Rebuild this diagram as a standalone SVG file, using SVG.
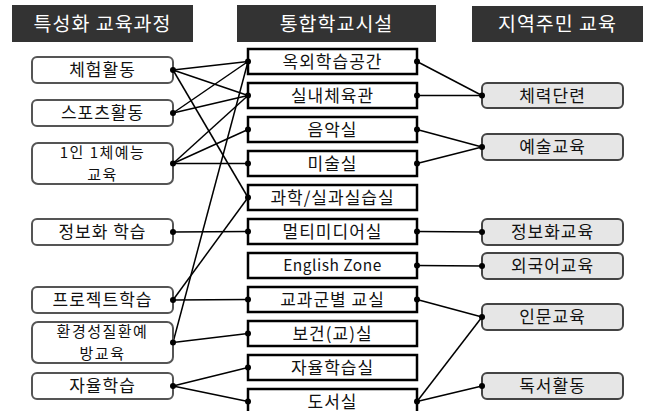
<svg xmlns="http://www.w3.org/2000/svg" width="647" height="411" viewBox="0 0 647 411">
<style>
text{font-family:"Noto Sans CJK KR","Noto Sans",sans-serif;text-anchor:middle;}
.hd rect{fill:#333333;}
.hd text{fill:#ffffff;font-size:19.5px;letter-spacing:1px;}
.lf rect{fill:#ffffff;stroke:#555555;stroke-width:2;}
.md rect{fill:#ffffff;stroke:#000000;stroke-width:2.5;}
.rt rect{fill:#e6e6e6;stroke:#444444;stroke-width:2;}
.n text{fill:#111111;font-size:17px;letter-spacing:1px;}
.n text.two{font-size:15px;letter-spacing:1.5px;}
#conn line{stroke:#000000;stroke-width:1.5;}
#dots circle{fill:#000000;}
</style>
<rect width="647" height="411" fill="#ffffff"/>
<g id="h1" class="hd"><rect x="12" y="5" width="181" height="37"/><text x="102.5" y="30.5">특성화 교육과정</text></g>
<g id="h2" class="hd"><rect x="237" y="5" width="199" height="37"/><text x="336.5" y="30.5">통합학교시설</text></g>
<g id="h3" class="hd"><rect x="472" y="6" width="171" height="36"/><text x="557.5" y="30.5">지역주민 교육</text></g>

<g id="conn">
<line x1="173" y1="70" x2="248" y2="61.5"/>
<line x1="173" y1="70" x2="248" y2="95.5"/>
<line x1="173" y1="70" x2="248" y2="197.5"/>
<line x1="173" y1="113" x2="248" y2="61.5"/>
<line x1="173" y1="113" x2="248" y2="95.5"/>
<line x1="173" y1="163.5" x2="248" y2="95.5"/>
<line x1="173" y1="163.5" x2="248" y2="129.5"/>
<line x1="173" y1="163.5" x2="248" y2="163.5"/>
<line x1="173" y1="232" x2="248" y2="231.5"/>
<line x1="173" y1="300" x2="248" y2="197.5"/>
<line x1="173" y1="300" x2="248" y2="299.5"/>
<line x1="173" y1="342.5" x2="248" y2="61.5"/>
<line x1="173" y1="342.5" x2="248" y2="333.5"/>
<line x1="173" y1="386" x2="248" y2="367.5"/>
<line x1="173" y1="386" x2="248" y2="401.5"/>
<line x1="417" y1="61.5" x2="482" y2="95.5"/>
<line x1="417" y1="95.5" x2="482" y2="95.5"/>
<line x1="417" y1="129.5" x2="482" y2="147"/>
<line x1="417" y1="163.5" x2="482" y2="147"/>
<line x1="417" y1="231.5" x2="482" y2="232"/>
<line x1="417" y1="265.5" x2="482" y2="266"/>
<line x1="417" y1="299.5" x2="482" y2="317"/>
<line x1="417" y1="401.5" x2="482" y2="317"/>
<line x1="417" y1="401.5" x2="482" y2="386"/>
</g>

<g id="l1" class="n lf"><rect x="32" y="57" width="141" height="26" rx="5"/><text x="102.5" y="76">체험활동</text></g>
<g id="l2" class="n lf"><rect x="32" y="100" width="141" height="26" rx="5"/><text x="102.5" y="119">스포츠활동</text></g>
<g id="l3" class="n lf"><rect x="32" y="143" width="141" height="41" rx="6"/><text class="two" x="102.5" y="158">1인 1체예능</text><text class="two" x="102.5" y="180">교육</text></g>
<g id="l4" class="n lf"><rect x="32" y="219" width="141" height="26" rx="5"/><text x="102.5" y="238">정보화 학습</text></g>
<g id="l5" class="n lf"><rect x="32" y="287" width="141" height="26" rx="5"/><text x="102.5" y="306">프로젝트학습</text></g>
<g id="l6" class="n lf"><rect x="32" y="322" width="141" height="41" rx="6"/><text class="two" x="102.5" y="337">환경성질환예</text><text class="two" x="102.5" y="359">방교육</text></g>
<g id="l7" class="n lf"><rect x="32" y="373" width="141" height="26" rx="5"/><text x="102.5" y="392">자율학습</text></g>

<g id="m1" class="n md"><rect x="248" y="49" width="169" height="25"/><text x="332.5" y="67.5">옥외학습공간</text></g>
<g id="m2" class="n md"><rect x="248" y="83" width="169" height="25"/><text x="332.5" y="101.5">실내체육관</text></g>
<g id="m3" class="n md"><rect x="248" y="117" width="169" height="25"/><text x="332.5" y="135.5">음악실</text></g>
<g id="m4" class="n md"><rect x="248" y="151" width="169" height="25"/><text x="332.5" y="169.5">미술실</text></g>
<g id="m5" class="n md"><rect x="248" y="185" width="169" height="25"/><text x="332.5" y="203.5">과학/실과실습실</text></g>
<g id="m6" class="n md"><rect x="248" y="219" width="169" height="25"/><text x="332.5" y="237.5">멀티미디어실</text></g>
<g id="m7" class="n md"><rect x="248" y="253" width="169" height="25"/><text x="332.5" y="271" style="font-size:15.5px;letter-spacing:0.5px">English Zone</text></g>
<g id="m8" class="n md"><rect x="248" y="287" width="169" height="25"/><text x="332.5" y="305.5">교과군별 교실</text></g>
<g id="m9" class="n md"><rect x="248" y="321" width="169" height="25"/><text x="332.5" y="339.5">보건(교)실</text></g>
<g id="m10" class="n md"><rect x="248" y="355" width="169" height="25"/><text x="332.5" y="373.5">자율학습실</text></g>
<g id="m11" class="n md"><rect x="248" y="389" width="169" height="25"/><text x="332.5" y="407.5">도서실</text></g>

<g id="r1" class="n rt"><rect x="482" y="83" width="141" height="25" rx="5"/><text x="552.5" y="101.5">체력단련</text></g>
<g id="r2" class="n rt"><rect x="482" y="134" width="141" height="26" rx="5"/><text x="552.5" y="153">예술교육</text></g>
<g id="r3" class="n rt"><rect x="482" y="219" width="141" height="26" rx="5"/><text x="552.5" y="238">정보화교육</text></g>
<g id="r4" class="n rt"><rect x="482" y="253" width="141" height="26" rx="5"/><text x="552.5" y="272">외국어교육</text></g>
<g id="r5" class="n rt"><rect x="482" y="304" width="141" height="26" rx="5"/><text x="552.5" y="323">인문교육</text></g>
<g id="r6" class="n rt"><rect x="482" y="373" width="141" height="26" rx="5"/><text x="552.5" y="392">독서활동</text></g>

<g id="dots">
<circle cx="173" cy="70" r="3"/><circle cx="173" cy="113" r="3"/><circle cx="173" cy="163.5" r="3"/><circle cx="173" cy="232" r="3"/><circle cx="173" cy="300" r="3"/><circle cx="173" cy="342.5" r="3"/><circle cx="173" cy="386" r="3"/>
<circle cx="248" cy="61.5" r="3"/><circle cx="248" cy="95.5" r="3"/><circle cx="248" cy="129.5" r="3"/><circle cx="248" cy="163.5" r="3"/><circle cx="248" cy="197.5" r="3"/><circle cx="248" cy="231.5" r="3"/><circle cx="248" cy="299.5" r="3"/><circle cx="248" cy="333.5" r="3"/><circle cx="248" cy="367.5" r="3"/><circle cx="248" cy="401.5" r="3"/>
<circle cx="417" cy="61.5" r="3"/><circle cx="417" cy="95.5" r="3"/><circle cx="417" cy="129.5" r="3"/><circle cx="417" cy="163.5" r="3"/><circle cx="417" cy="231.5" r="3"/><circle cx="417" cy="265.5" r="3"/><circle cx="417" cy="299.5" r="3"/><circle cx="417" cy="401.5" r="3"/>
<circle cx="482" cy="95.5" r="3"/><circle cx="482" cy="147" r="3"/><circle cx="482" cy="232" r="3"/><circle cx="482" cy="266" r="3"/><circle cx="482" cy="317" r="3"/><circle cx="482" cy="386" r="3"/>
</g>
</svg>
